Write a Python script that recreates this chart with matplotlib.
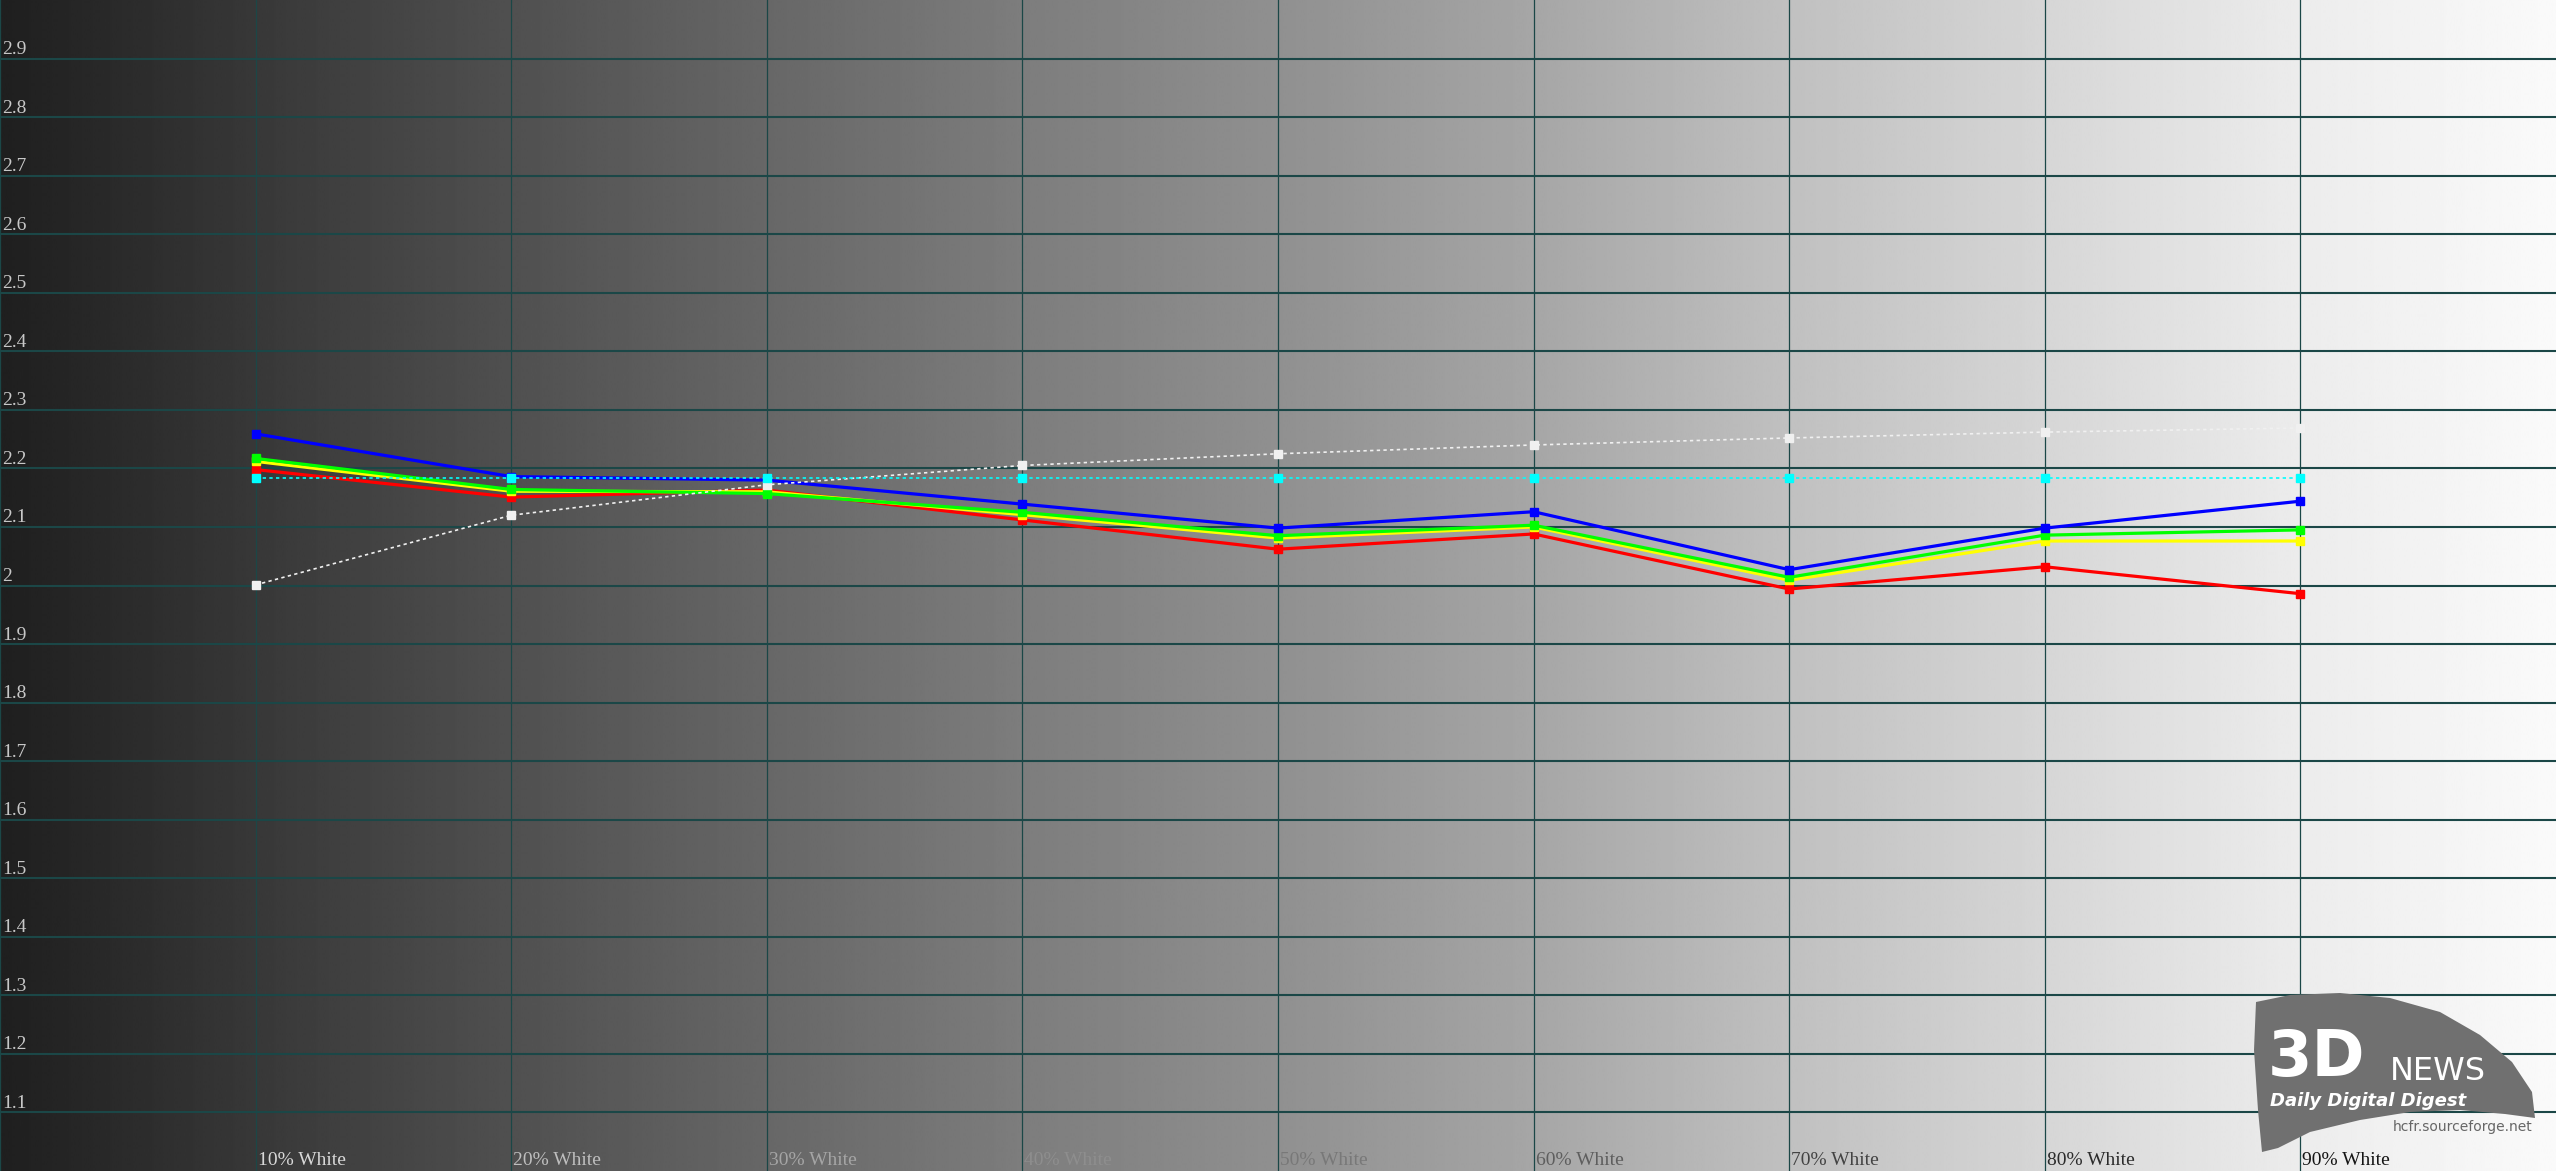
import numpy as np
import matplotlib
matplotlib.use('Agg')
from matplotlib import pyplot as plt
from matplotlib.patches import Polygon

# gamma values
levels = [10, 20, 30, 40, 50, 60, 70, 80, 90]
level_labels = ['10% White', '20% White', '30% White', '40% White', '50% White',
                '60% White', '70% White', '80% White', '90% White']
gamma_red = [2.198, 2.151, 2.163, 2.112, 2.062, 2.088, 1.994, 2.032, 1.986]
gamma_green = [2.217, 2.164, 2.157, 2.125, 2.085, 2.103, 2.014, 2.086, 2.095]
gamma_yellow = [2.212, 2.161, 2.160, 2.121, 2.081, 2.100, 2.009, 2.076, 2.076]
gamma_blue = [2.259, 2.186, 2.180, 2.139, 2.098, 2.126, 2.027, 2.098, 2.144]
gamma_gray = [2.001, 2.120, 2.172, 2.205, 2.225, 2.240, 2.252, 2.262, 2.269]
gamma_target = [2.183, 2.183, 2.183, 2.183, 2.183, 2.183, 2.183, 2.183, 2.183]
y_ticks = [1.1, 1.2, 1.3, 1.4, 1.5, 1.6, 1.7, 1.8, 1.9, 2.0,
           2.1, 2.2, 2.3, 2.4, 2.5, 2.6, 2.7, 2.8, 2.9]

W, H = 2556, 1171
fig = plt.figure(figsize=(W / 100, H / 100), dpi=100)
ax = fig.add_axes([0, 0, 1, 1])
ax.set_xlim(0, 100)
ax.set_ylim(1.0, 3.0)
ax.axis('off')

# grey ramp behind everything
anchor_pos = [0, .1, .2, .3, .4, .5, .6, .7, .8, .9, 1.0]
anchor_val = [31, 56, 80, 103, 125, 144, 166, 192, 214, 236, 250]
xs = np.linspace(0, 1, 1200)
ramp = np.interp(xs, anchor_pos, anchor_val) / 255.0
ax.imshow(np.tile(ramp, (2, 1)), cmap='gray', vmin=0, vmax=1, aspect='auto',
          extent=(0, 100, 1.0, 3.0), interpolation='bilinear', zorder=0)

def bg_at(x):
    return np.interp(x / 100.0, anchor_pos, anchor_val) / 255.0

# grid
grid_col = '#1b4747'
for v in y_ticks:
    ax.axhline(v, color=grid_col, lw=1.5, zorder=1)
for x in [0] + levels:
    ax.axvline(x, color=grid_col, lw=0.9, zorder=1)

serif = ['Liberation Serif', 'DejaVu Serif']
for v in y_ticks:
    txt = '2' if abs(v - 2.0) < 1e-9 else f'{v:.1f}'
    ax.annotate(txt, xy=(0, v), xytext=(2, 4.5), textcoords='offset pixels',
                ha='left', va='baseline', fontsize=14, family=serif,
                color='#c8c8c8', zorder=2)
for x, lab in zip(levels, level_labels):
    g = float(np.clip(1.12 - 1.1 * bg_at(x + 3), 0.05, 0.95))
    ax.annotate(lab, xy=(x, 1.0), xytext=(2, 6), textcoords='offset pixels',
                ha='left', va='baseline', fontsize=14, family=serif,
                color=(g, g, g), zorder=2)

# curves
ms = 6
ax.plot(levels, gamma_red, color='#ff0000', lw=2.3, marker='s', ms=ms, zorder=4)
ax.plot(levels, gamma_yellow, color='#ffff00', lw=2.3, marker='s', ms=ms, zorder=4)
ax.plot(levels, gamma_green, color='#00ff00', lw=2.3, marker='s', ms=ms, zorder=4)
ax.plot(levels, gamma_blue, color='#0000ff', lw=2.3, marker='s', ms=ms, zorder=4)
ax.plot(levels, gamma_gray, color='#f0f0f0', lw=1.2, ls=(0, (2, 2)),
        marker='s', ms=ms, zorder=5)
ax.plot(levels, gamma_target, color='#00ffff', lw=1.2, ls=(0, (2, 2)),
        marker='s', ms=ms, zorder=5)

# 3DNews watermark
def fp(px, py):
    return (px / W, 1 - py / H)

brush = [(2256, 1002), (2290, 995), (2340, 993), (2390, 998), (2440, 1012),
         (2480, 1035), (2512, 1062), (2532, 1092), (2535, 1118), (2505, 1114),
         (2460, 1110), (2410, 1112), (2360, 1120), (2310, 1132), (2278, 1148),
         (2262, 1152), (2258, 1110), (2254, 1050)]
ax.add_patch(Polygon([fp(*p) for p in brush], closed=True, transform=fig.transFigure,
                     facecolor='#707070', edgecolor='none', zorder=6))
fig.text(*fp(2268, 1076), '3D', fontsize=46, fontweight='bold', color='white',
         family='DejaVu Sans', ha='left', va='baseline', zorder=7)
fig.text(*fp(2390, 1080), 'NEWS', fontsize=23, color='white', family='DejaVu Sans',
         ha='left', va='baseline', zorder=7)
fig.text(*fp(2270, 1106), 'Daily Digital Digest', fontsize=13, fontweight='bold',
         style='italic', color='white', family='DejaVu Sans', ha='left',
         va='baseline', zorder=7)
fig.text(*fp(2393, 1131), 'hcfr.sourceforge.net', fontsize=10, color='#666666',
         family='DejaVu Sans', ha='left', va='baseline', zorder=7)

fig.savefig('out.png', dpi=100)
